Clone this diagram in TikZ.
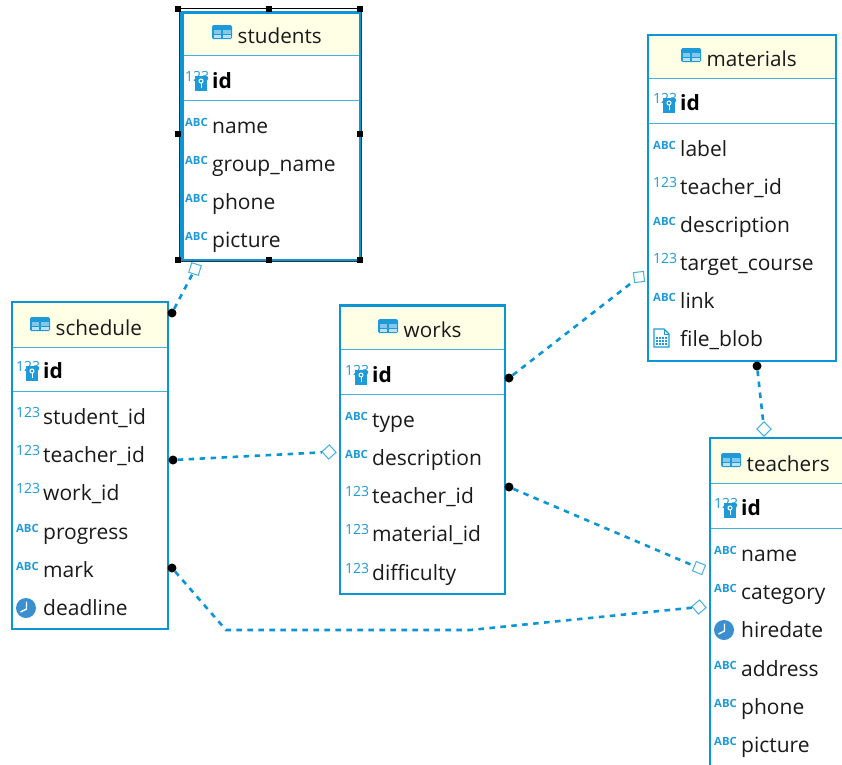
\documentclass[tikz,border=0pt]{standalone}
\usepackage{fontspec}
\setmainfont{Open Sans}
\usetikzlibrary{calc}
\definecolor{edgeblue}{HTML}{0A96D6}
\definecolor{sepblue}{HTML}{45B2DE}
\definecolor{headfill}{HTML}{FFFFE6}
\definecolor{iconblue}{HTML}{1E9AD8}
\definecolor{clockblue}{HTML}{3A8FD0}
\definecolor{textdark}{HTML}{1A1A1A}
\tikzset{
  tablebox/.style={draw=edgeblue,line width=2.4pt,fill=white},
  headbox/.style={fill=headfill},
  sepline/.style={draw=sepblue,line width=1pt},
  coltext/.style={anchor=base west,inner sep=0pt,font=\fontsize{21}{21}\selectfont,text=textdark},
  titletext/.style={coltext,font=\fontsize{20.7}{21}\selectfont},
  idtext/.style={coltext,font=\fontsize{21}{21}\selectfont\bfseries,text=black},
  icontext/.style={anchor=base west,inner sep=0pt,text=iconblue},
  fkline/.style={draw=edgeblue,line width=2.6pt,dash pattern=on 5.5pt off 5.5pt},
  fromdot/.style={circle,fill=black,inner sep=0pt,minimum size=9pt},
  todiamond/.style={rectangle,draw=sepblue,fill=white,line width=1pt,inner sep=0pt,minimum size=10pt},
  handle/.style={rectangle,fill=black,inner sep=0pt,minimum size=6pt},
  pics/tableicon/.style={code={
    \fill[iconblue,rounded corners=1.5pt] (0,0) rectangle (20,14);
    \fill[white!45!iconblue] (1.5,5) rectangle (9.3,9);
    \fill[white!45!iconblue] (10.7,5) rectangle (18.5,9);
    \fill[white!70!iconblue] (1.5,10) rectangle (9.3,13);
    \fill[white!70!iconblue] (10.7,10) rectangle (18.5,13);
  }},
  pics/abcicon/.style={code={
    \node[icontext,font=\fontsize{11.3}{12}\selectfont\bfseries] at (0,10) {ABC};
  }},
  pics/numicon/.style={code={
    \node[icontext,font=\fontsize{14}{14}\selectfont] at (0,10) {123};
  }},
  pics/keyicon/.style={code={
    \node[icontext,font=\fontsize{14}{14}\selectfont] at (0,10) {123};
    \fill[iconblue] (10,5) rectangle (22,20);
    \draw[white,line width=1pt] (16,10) circle (2);
    \draw[white,line width=1pt] (16,12) -- (16,17);
  }},
  pics/clockicon/.style={code={
    \fill[clockblue] (10,10) circle (10);
    \draw[white,line width=1.4pt] (10.5,3.5) -- (10.5,11) -- (4.5,14);
  }},
  pics/blobicon/.style={code={
    \draw[iconblue,line width=1.2pt,fill=white] (1,0) -- (11,0) -- (16,5) -- (16,18) -- (1,18) -- cycle;
    \draw[iconblue,line width=1pt] (11,0) -- (11,5) -- (16,5);
    \foreach \yy in {7.5,10.5,13.5}
      \foreach \xx in {4,7,10,13}
        \fill[iconblue] (\xx-1,\yy) rectangle (\xx+1,\yy+2);
  }}
}
% \tablebox{name}{x1}{y1}{x2}{y2}{sep1}{sep2}{icon x}{title}
\newcommand{\tablebox}[9]{%
  \path[tablebox] (#2,#3) rectangle (#4,#5);
  \coordinate (#1-nw) at (#2,#3);
  \coordinate (#1-se) at (#4,#5);
  \path[headbox] (#2+1,#3+1) rectangle (#4-1,#6);
  \draw[sepline] (#2+1,#6) -- (#4-1,#6);
  \draw[sepline] (#2+1,#7) -- (#4-1,#7);
  \path[tablebox,fill=none] (#2,#3) rectangle (#4,#5);
  \pic at (#8,#6-30) {tableicon};
  \node[titletext] (#1-title) at (#8+25.5,#6-12) {#9};
}
% \colrow{nodename}{x}{row centre y}{icon}{text}
\newcommand{\colrow}[5]{%
  \pic at (#2+5,#3-10) {#4};
  \node[coltext] (#1) at (#2+32,#3+7.5) {#5};
}
\newcommand{\idrow}[3]{%
  \pic at (#2+5,#3-10) {keyicon};
  \node[idtext] (#1) at (#2+32,#3+7.5) {id};
}
\begin{document}
\begin{tikzpicture}[x=1pt,y=-1pt]
\clip (0,0) rectangle (842,764);
\fill[white] (0,0) rectangle (842,764);

% students
\tablebox{students}{180}{12}{360}{261}{55}{100}{212}{students}
\idrow{students-id}{180}{81}
\colrow{students-name}{180}{126}{abcicon}{name}
\colrow{students-group}{180}{164}{abcicon}{group\_name}
\colrow{students-phone}{180}{202}{abcicon}{phone}
\colrow{students-picture}{180}{240}{abcicon}{picture}
\draw[black,line width=1pt] (178,8.5) -- (360,8.5);
\draw[edgeblue,line width=3pt] (182,12) -- (360,12) -- (360,260) -- (182,260) -- cycle;
\draw[black!80,line width=1.2pt] (179.5,9) -- (179.5,261.5) -- (361.5,261.5) -- (361.5,9);
\foreach \hx/\hy/\hn in {178/9/a,269/9/b,360/9/c,178/134/d,360/134/e,178/260/f,269/260/g,360/260/h}
  \node[handle] (handle-\hn) at (\hx,\hy) {};

% materials
\tablebox{materials}{648}{35}{836}{361}{78}{123}{681}{materials}
\idrow{materials-id}{648}{103}
\colrow{materials-label}{648}{149}{abcicon}{label}
\colrow{materials-teacher}{648}{187}{numicon}{teacher\_id}
\colrow{materials-desc}{648}{225}{abcicon}{description}
\colrow{materials-course}{648}{263}{numicon}{target\_course}
\colrow{materials-link}{648}{301}{abcicon}{link}
\colrow{materials-blob}{648}{339}{blobicon}{file\_blob}

% schedule
\tablebox{schedule}{12}{302}{168}{629}{347}{391}{30}{schedule}
\idrow{schedule-id}{11}{371}
\colrow{schedule-student}{11}{417}{numicon}{student\_id}
\colrow{schedule-teacher}{11}{455}{numicon}{teacher\_id}
\colrow{schedule-work}{11}{493}{numicon}{work\_id}
\colrow{schedule-progress}{11}{532}{abcicon}{progress}
\colrow{schedule-mark}{11}{570}{abcicon}{mark}
\colrow{schedule-deadline}{11}{608}{clockicon}{deadline}

% works
\tablebox{works}{340}{305.5}{505}{594}{349}{394}{378}{works}
\idrow{works-id}{340}{375}
\colrow{works-type}{340}{420}{abcicon}{type}
\colrow{works-desc}{340}{458}{abcicon}{description}
\colrow{works-teacher}{340}{496}{numicon}{teacher\_id}
\colrow{works-material}{340}{534}{numicon}{material\_id}
\colrow{works-difficulty}{340}{573}{numicon}{difficulty}

% teachers
\tablebox{teachers}{710}{438}{870}{800}{483}{528}{721}{teachers}
\idrow{teachers-id}{709}{508}
\colrow{teachers-name}{709}{554}{abcicon}{name}
\colrow{teachers-category}{709}{592}{abcicon}{category}
\colrow{teachers-hiredate}{709}{630}{clockicon}{hiredate}
\colrow{teachers-address}{709}{669}{abcicon}{address}
\colrow{teachers-phone}{709}{707}{abcicon}{phone}
\colrow{teachers-picture}{709}{745}{abcicon}{picture}

% connector ends
\coordinate (bendA) at (226,630);
\coordinate (bendB) at (470,630);
\node[fromdot] (d1) at (172,313) {};
\node[todiamond,rotate=-17] (k1) at (195,269) {};
\node[fromdot] (d2) at (509,378) {};
\node[todiamond,rotate=7] (k2) at (639,277) {};
\node[fromdot] (d3) at (757,366) {};
\node[todiamond,rotate=45] (k3) at (764,429) {};
\node[fromdot] (d4) at (173,460) {};
\node[todiamond,rotate=42] (k4) at (329,452) {};
\node[fromdot] (d5) at (509,487) {};
\node[todiamond,rotate=-22] (k5) at (699,568) {};
\node[fromdot] (d6) at (172,568) {};
\node[todiamond,rotate=40] (k6) at (699,607) {};

\draw[fkline] (d1) -- (k1);
\draw[fkline] (d2) -- (k2);
\draw[fkline] (d3) -- (k3);
\draw[fkline] (d4) -- (k4);
\draw[fkline] (d5) -- (k5);
\draw[fkline] (d6) -- (bendA) -- (bendB) -- (k6);
\end{tikzpicture}
\end{document}
